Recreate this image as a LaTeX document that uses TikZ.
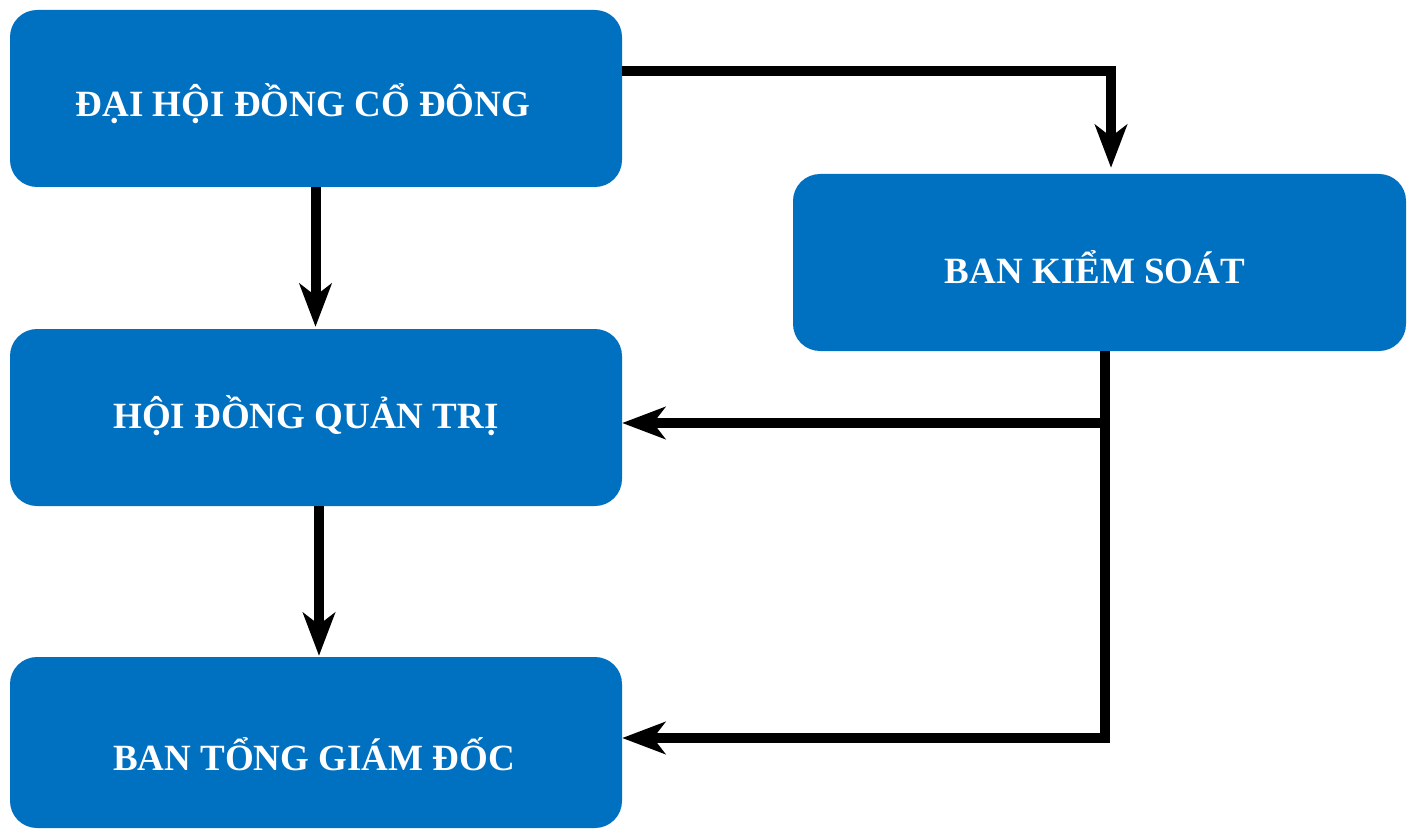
\documentclass[tikz,border=0pt]{standalone}
\usepackage{fontspec}
\setmainfont{Liberation Serif}
\usetikzlibrary{arrows.meta}
\definecolor{boxblue}{HTML}{0070C0}
\tikzset{
  box/.style={rectangle, rounded corners=27pt, fill=boxblue, draw=none, inner sep=0pt},
  lbl/.style={text=white, font=\bfseries\fontsize{37}{40}\selectfont, inner sep=0pt},
  conn/.style={line width=10pt, black},
  arr/.style={conn, -{Stealth[length=43pt,width=32pt,inset=12pt]}},
}
\begin{document}
\begin{tikzpicture}[x=1pt,y=-1pt]
\useasboundingbox (0,0) rectangle (1410,829);
\node[box, minimum width=612pt, minimum height=177pt] (dhcd) at (316,98.5) {};
\node[box, minimum width=613pt, minimum height=177pt] (bks) at (1099.5,262.5) {};
\node[box, minimum width=612pt, minimum height=177pt] (hdqt) at (316,417.5) {};
\node[box, minimum width=612pt, minimum height=171pt] (btgd) at (316,742.5) {};
\node[lbl] (t1) at (303,104) {ĐẠI HỘI ĐỒNG CỔ ĐÔNG};
\node[lbl] (t2) at (1095,267) {BAN KIỂM SOÁT};
\node[lbl] (t3) at (306,416) {HỘI ĐỒNG QUẢN TRỊ};
\node[lbl] (t4) at (314,754) {BAN TỔNG GIÁM ĐỐC};
\coordinate (c1) at (1111,71);
\coordinate (j1) at (1105,423);
\coordinate (j2) at (1105,738);
\draw[arr, shorten >=6pt] (dhcd.east |- c1) -- (c1) -- (bks.north -| c1);
\draw[arr, shorten >=2pt] ([xshift=-0.5pt]dhcd.south) -- ([xshift=-0.5pt]hdqt.north);
\draw[arr, shorten >=1pt] ([xshift=3pt]hdqt.south) -- ([xshift=3pt]btgd.north);
\draw[arr] (bks.south -| j2) -- (j2) -- (btgd.east |- j2);
\draw[arr] ([xshift=-5pt]j1) -- (hdqt.east |- j1);
\end{tikzpicture}
\end{document}
